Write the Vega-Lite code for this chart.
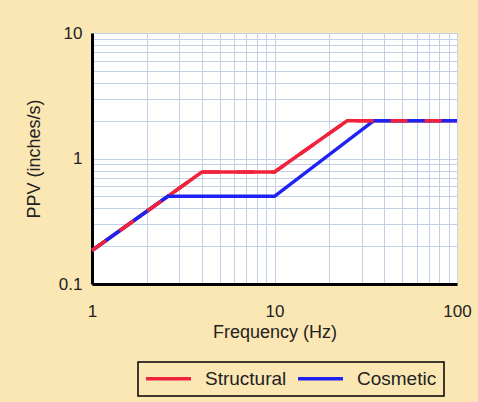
{
  "$schema": "https://vega.github.io/schema/vega-lite/v6.json",
  "autosize": {"type": "none"},
  "width": 365,
  "height": 251,
  "padding": {"left": 92, "top": 33, "right": 21, "bottom": 118},
  "background": "#FBE7B3",
  "data": {
    "values": [
      {"series": "Structural", "freq": 1, "ppv": 0.185},
      {"series": "Structural", "freq": 4, "ppv": 0.78},
      {"series": "Structural", "freq": 10, "ppv": 0.78},
      {"series": "Structural", "freq": 25, "ppv": 2.0},
      {"series": "Structural", "freq": 100, "ppv": 2.0},
      {"series": "Cosmetic", "freq": 1, "ppv": 0.185},
      {"series": "Cosmetic", "freq": 2.6, "ppv": 0.5},
      {"series": "Cosmetic", "freq": 10, "ppv": 0.5},
      {"series": "Cosmetic", "freq": 35, "ppv": 2.0},
      {"series": "Cosmetic", "freq": 100, "ppv": 2.0}
    ]
  },
  "encoding": {
    "x": {
      "field": "freq", "type": "quantitative",
      "scale": {"type": "log", "domain": [1, 100], "nice": false},
      "axis": {
        "title": "Frequency (Hz)",
        "values": [1, 2, 3, 4, 5, 6, 7, 8, 9, 10, 20, 30, 40, 50, 60, 70, 80, 90, 100],
        "labelExpr": "(datum.value == 1 || datum.value == 10 || datum.value == 100) ? '' + datum.value : ''",
        "labelPadding": 19,
        "titlePadding": 4
      }
    },
    "y": {
      "field": "ppv", "type": "quantitative",
      "scale": {"type": "log", "domain": [0.1, 10], "nice": false},
      "axis": {
        "title": "PPV (inches/s)",
        "values": [0.1, 0.2, 0.3, 0.4, 0.5, 0.6, 0.7, 0.8, 0.9, 1, 2, 3, 4, 5, 6, 7, 8, 9, 10],
        "labelExpr": "(datum.value == 0.1 || datum.value == 1 || datum.value == 10) ? '' + datum.value : ''",
        "labelPadding": 10,
        "titlePadding": 15
      }
    }
  },
  "layer": [
    {
      "transform": [{"filter": "datum.series == 'Structural'"}],
      "mark": {"type": "line", "strokeWidth": 3.5, "clip": false},
      "encoding": {
        "color": {
          "field": "series", "type": "nominal",
          "scale": {"domain": ["Structural", "Cosmetic"], "range": ["#F0223C", "#1E22F2"]},
          "legend": {
            "title": null,
            "orient": "none",
            "direction": "horizontal",
            "legendX": 46,
            "legendY": 329
          }
        }
      }
    },
    {
      "transform": [{"filter": "datum.series == 'Cosmetic'"}],
      "mark": {"type": "line", "strokeWidth": 3.5},
      "encoding": {
        "color": {"field": "series", "type": "nominal"}
      }
    },
    {
      "transform": [{"filter": "datum.series == 'Structural'"}],
      "mark": {"type": "line", "strokeWidth": 3.5, "color": "#F0223C", "strokeDash": [17, 17]},
      "encoding": {}
    }
  ],
  "config": {
    "view": {"stroke": null, "fill": "#FFFFFF"},
    "font": "Liberation Sans",
    "axis": {
      "domainColor": "#000000",
      "domainWidth": 3,
      "ticks": false,
      "tickSize": 0,
      "gridColor": "#C3D0E8",
      "gridWidth": 1,
      "gridOpacity": 1,
      "labelFontSize": 17,
      "labelColor": "#222222",
      "labelFlush": false,
      "labelOverlap": false,
      "titleFontSize": 18,
      "titleFontWeight": "normal",
      "titleColor": "#222222"
    },
    "legend": {
      "symbolType": "M-3,0H3",
      "symbolSize": 225,
      "symbolOffset": 14,
      "symbolStrokeWidth": 3.5,
      "labelFontSize": 19,
      "labelColor": "#222222",
      "labelOffset": 27,
      "columnPadding": 4,
      "padding": 7,
      "strokeColor": "#000000",
      "strokeWidth": 1.5,
      "labelLimit": 200
    }
  }
}
